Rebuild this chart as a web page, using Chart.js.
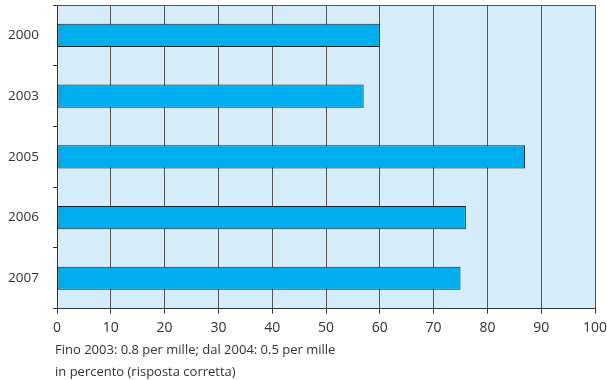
<!DOCTYPE html>
<html>
<head>
<meta charset="utf-8">
<script src="https://cdn.jsdelivr.net/npm/chart.js@4/dist/chart.umd.min.js"></script>
<style>
  html, body { margin: 0; padding: 0; background: #fff; }
  #wrap { width: 607px; height: 380px; }
</style>
</head>
<body>
<div id="wrap"><canvas id="grafico" width="607" height="380"></canvas></div>
<script>
// dati
const anni = ['2000', '2003', '2005', '2006', '2007'];
const valori = [60, 57, 87, 76, 75];
const tickX = [0, 10, 20, 30, 40, 50, 60, 70, 80, 90, 100];
const note = ['Fino 2003: 0.8 per mille; dal 2004: 0.5 per mille', 'in percento (risposta corretta)'];

const fontName = '"Open Sans", "DejaVu Sans", sans-serif';

// sfondo area grafico + note in basso
const sfondoPlugin = {
    id: 'sfondo',
    beforeDraw(chart) {
        const a = chart.chartArea;
        const ctx = chart.ctx;
        ctx.save();
        ctx.fillStyle = '#d6ecf9';
        ctx.fillRect(a.left, a.top, a.right - a.left, a.bottom - a.top);
        ctx.restore();
    },
    afterDraw(chart) {
        const a = chart.chartArea;
        const ctx = chart.ctx;
        ctx.save();
        ctx.strokeStyle = '#555';
        ctx.lineWidth = 1;
        ctx.beginPath();
        ctx.moveTo(a.left, a.top + 0.5);
        ctx.lineTo(a.right, a.top + 0.5);
        ctx.stroke();
        ctx.fillStyle = '#333';
        ctx.font = '13px ' + fontName;
        ctx.textBaseline = 'middle';
        ctx.textAlign = 'left';
        note.forEach((t, i) => ctx.fillText(t, a.left - 2, 350 + i * 22));
        ctx.restore();
    }
};

const ctx = document.getElementById('grafico').getContext('2d');
window.myChart = new Chart(ctx, {
    type: 'bar',
    data: {
        labels: anni,
        datasets: [{
            data: valori,
            backgroundColor: '#00aeef',
            borderColor: '#1a2328',
            borderWidth: 1,
            borderSkipped: false,
            categoryPercentage: 1,
            barPercentage: 0.38
        }]
    },
    options: {
        indexAxis: 'y',
        responsive: false,
        animation: false,
        layout: { padding: { top: 5, right: 12, bottom: 37.5, left: 0 } },
        plugins: {
            legend: { display: false },
            tooltip: { enabled: false }
        },
        scales: {
            x: {
                min: 0,
                max: 100,
                afterBuildTicks(axis) { axis.ticks = tickX.map(v => ({ value: v })); },
                grid: {
                    color: '#555',
                    lineWidth: 1,
                    drawTicks: true,
                    tickLength: 5,
                    tickColor: '#333'
                },
                border: { display: true, color: '#333', width: 1 },
                ticks: {
                    color: '#333',
                    font: { family: fontName, size: 14 },
                    padding: 6,
                    maxRotation: 0
                },
                afterFit(scale) { scale.paddingLeft = 0; scale.paddingRight = 0; }
            },
            y: {
                grid: {
                    offset: true,
                    drawOnChartArea: false,
                    drawTicks: true,
                    tickLength: 4,
                    tickColor: '#333'
                },
                border: { display: true, color: '#333', width: 1 },
                ticks: {
                    color: '#333',
                    font: { family: fontName, size: 13.5 },
                    padding: 14
                },
                afterFit(scale) {
                    scale.width = 57;
                    scale.paddingTop = 0;
                    scale.paddingBottom = 0;
                }
            }
        }
    },
    plugins: [sfondoPlugin]
});
</script>
</body>
</html>
